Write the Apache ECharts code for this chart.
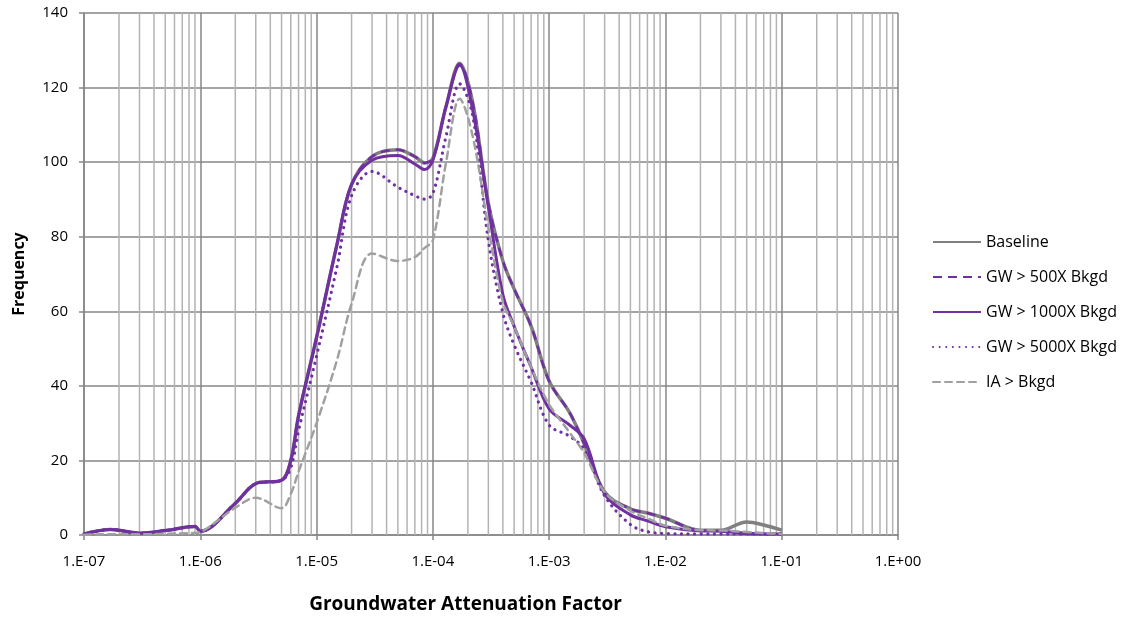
<!DOCTYPE html>
<html>
<head>
<meta charset="utf-8">
<script src="https://cdn.jsdelivr.net/npm/echarts@6/dist/echarts.min.js"></script>
<style>html,body{margin:0;padding:0;background:#fff}#c{width:1123px;height:620px}</style>
</head>
<body>
<div id="c"></div>
<script>
// Groundwater attenuation factor (x positions of the data points)
const xValues = [1e-7, 1.7e-7, 3e-7, 5e-7, 9e-7, 1e-6, 2e-6, 3e-6, 5e-6, 6e-6, 7e-6, 1e-5, 1.5e-5, 2e-5, 3e-5, 5e-5, 7e-5, 8.5e-5, 1e-4, 1.3e-4, 1.7e-4, 2.2e-4, 3e-4, 4e-4, 5e-4, 7e-4, 1e-3, 1.5e-3, 2e-3, 3e-3, 5e-3, 7e-3, 1e-2, 2e-2, 3e-2, 5e-2, 7e-2, 1e-1];

const baseline = [0.3, 1.5, 0.5, 1.2, 2.3, 1.0, 8.5, 13.8, 14.7, 20, 32, 53, 78, 94, 101.5, 103.3, 101.5, 99.8, 101, 115, 126.5, 116, 89, 73.5, 66, 56, 41.3, 32.8, 24.5, 11.5, 7, 5.9, 4.5, 1.3, 1.3, 3.5, 2.7, 1.3];
const gw500 = [0.3, 1.5, 0.5, 1.2, 2.3, 1.0, 8.5, 13.8, 14.7, 20, 32, 53, 78, 94, 101.5, 103.3, 101.5, 99.8, 101, 115, 126.3, 116, 89, 73.5, 66, 56, 41.3, 32.8, 24.5, 11.5, 7, 5.9, 4.5, 1.2, 1.1, 0.5, 0.3, 0.3];
const gw1000 = [0.3, 1.5, 0.5, 1.2, 2.3, 1.0, 8.5, 13.8, 14.7, 20, 32, 53, 78, 94, 100.5, 101.8, 99.5, 98, 100.5, 115, 126, 114, 88, 64.5, 56, 45, 33.8, 29.5, 25.8, 11, 5.4, 3.8, 2.2, 1.1, 1.0, 0.4, 0.3, 0.3];
const gw5000 = [0.3, 1.5, 0.5, 1.2, 2.3, 1.0, 8.5, 13.8, 14.7, 18, 28, 48, 72, 91, 97.5, 93.3, 91, 90.1, 91.5, 107, 121, 112.5, 79, 59.5, 51, 41, 29.5, 26.5, 23, 10.5, 2.8, 0.9, 0.4, 0.3, 0.3, 0.3, 0.3, 0.3];
const iaBkgd = [0.1, 0.2, 0.2, 0.3, 0.6, 0.8, 7.3, 10, 7.2, 11, 17, 30, 47, 62, 75.5, 73.5, 74.5, 77, 79, 100, 117, 107, 82.5, 62.5, 56, 45, 35, 27.5, 22, 11.5, 6.5, 4.5, 2.5, 1.3, 1.2, 0.8, 0.5, 0.3];

const seriesNames = ['Baseline', 'GW > 500X Bkgd', 'GW > 1000X Bkgd', 'GW > 5000X Bkgd', 'IA > Bkgd'];
const yTicks = [0, 20, 40, 60, 80, 100, 120, 140];
const xDecades = [1e-7, 1e-6, 1e-5, 1e-4, 1e-3, 1e-2, 1e-1, 1e0];

const Y_MIN = yTicks[0], Y_MAX = yTicks[yTicks.length - 1];

// minor gridlines at 2..9 within each decade (drawn as broken vertical segments)
const minorGridData = [];
for (let d = 0; d < xDecades.length - 1; d++) {
  for (let m = 2; m <= 9; m++) {
    const v = xDecades[d] * m;
    minorGridData.push([v, Y_MIN], [v, Y_MAX], [v, '-']);
  }
}

const pair = arr => xValues.map((x, i) => [x, arr[i]]);
const FONT = 'Open Sans';
const PURPLE = '#7030a0';

function fmtX(v) {
  const e = Math.round(Math.log10(v));
  const s = e < 0 ? '-' : '+';
  const a = Math.abs(e);
  return '1.E' + s + (a < 10 ? '0' + a : a);
}

const chart = echarts.init(document.getElementById('c'), null, {renderer: 'canvas'});
chart.setOption({
  animation: false,
  backgroundColor: '#fff',
  textStyle: {fontFamily: FONT},
  grid: {left: 84, right: 225, top: 13, bottom: 85, containLabel: false},
  legend: {
    orient: 'vertical', left: 927, top: 229, itemWidth: 48, itemHeight: 14, itemGap: 19,
    textStyle: {fontFamily: FONT, fontSize: 16, color: '#000'},
    itemStyle: {opacity: 0},
    data: seriesNames
  },
  xAxis: {
    type: 'log', logBase: 10, min: xDecades[0], max: xDecades[xDecades.length - 1], splitNumber: 7,
    name: 'Groundwater Attenuation Factor', nameLocation: 'middle', nameGap: 60,
    nameTextStyle: {fontFamily: FONT, fontSize: 19, fontWeight: 'bold', color: '#000', padding: [0, 51, 0, 0]},
    axisLine: {lineStyle: {color: '#878787', width: 1.5}},
    axisTick: {show: true, length: 5, lineStyle: {color: '#878787', width: 1.5}},
    axisLabel: {formatter: fmtX, fontSize: 15, color: '#000', margin: 19, fontFamily: FONT},
    splitLine: {show: true, lineStyle: {color: '#878787', width: 1.5}}
  },
  yAxis: {
    type: 'value', min: Y_MIN, max: Y_MAX, interval: 20,
    name: 'Frequency', nameLocation: 'middle', nameGap: 57,
    nameTextStyle: {fontFamily: FONT, fontSize: 16, fontWeight: 'bold', color: '#000'},
    axisLine: {show: true, lineStyle: {color: '#878787', width: 1.5}},
    axisTick: {show: true, length: 5, lineStyle: {color: '#878787', width: 1.5}},
    axisLabel: {fontSize: 15, color: '#000', margin: 16, fontFamily: FONT},
    splitLine: {show: true, lineStyle: {color: '#878787', width: 1.5}}
  },
  series: [
    {
      name: '_minor', type: 'line', data: minorGridData, silent: true, z: 1,
      symbol: 'none', connectNulls: false, smooth: false,
      lineStyle: {color: '#b3b3b3', width: 1.5}
    },
    {
      name: seriesNames[0], type: 'line', data: pair(baseline), smooth: 0.35, symbol: 'none', z: 3,
      color: '#808080', lineStyle: {color: '#808080', width: 3.5}
    },
    {
      name: seriesNames[1], type: 'line', data: pair(gw500), smooth: 0.35, symbol: 'none', z: 3,
      color: PURPLE, lineStyle: {color: PURPLE, width: 2.5, type: [9, 6]}
    },
    {
      name: seriesNames[2], type: 'line', data: pair(gw1000), smooth: 0.35, symbol: 'none', z: 3,
      color: PURPLE, lineStyle: {color: PURPLE, width: 3}
    },
    {
      name: seriesNames[3], type: 'line', data: pair(gw5000), smooth: 0.35, symbol: 'none', z: 3,
      color: PURPLE, lineStyle: {color: PURPLE, width: 3.2, type: [0.1, 6.5], cap: 'round'}
    },
    {
      name: seriesNames[4], type: 'line', data: pair(iaBkgd), smooth: 0.35, symbol: 'none', z: 3,
      color: '#a0a0a0', lineStyle: {color: '#a0a0a0', width: 2.5, type: [7, 5], cap: 'round'}
    }
  ]
});
</script>
</body>
</html>
